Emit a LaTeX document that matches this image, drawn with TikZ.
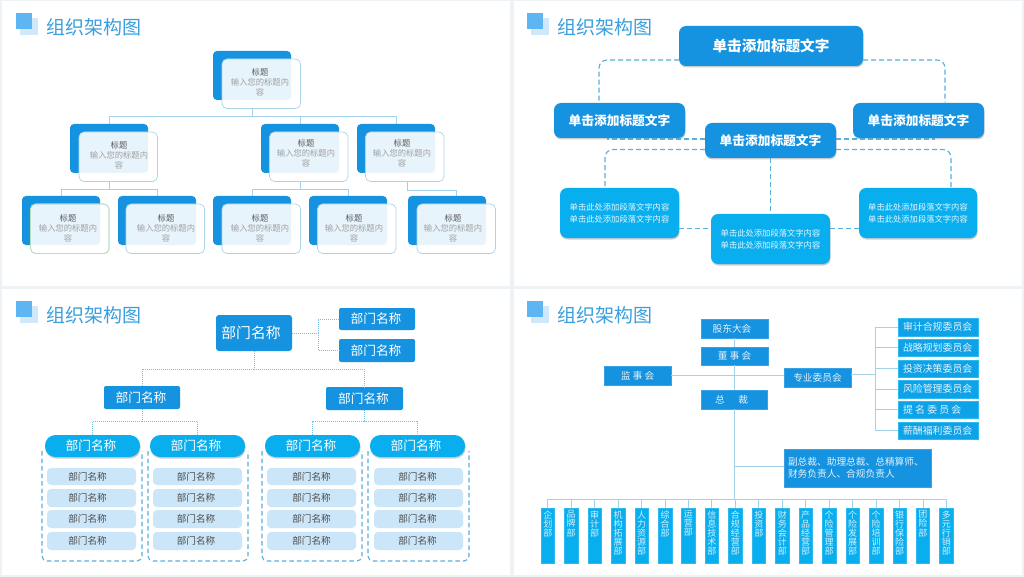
\documentclass[tikz,border=0pt]{standalone}
\usepackage{fontspec}
\setmainfont{Noto Sans CJK SC}
\usetikzlibrary{shadows}
\definecolor{bluea}{HTML}{1592E0}
\definecolor{blueb}{HTML}{09AEEF}
\definecolor{icona}{HTML}{5DB6F2}
\definecolor{iconb}{HTML}{CFE9FA}
\definecolor{ttlc}{HTML}{3A9FDC}
\definecolor{pagec}{HTML}{ECF2F5}
\definecolor{linec}{HTML}{A3D0EA}
\definecolor{dashc}{HTML}{5AAEDC}
\definecolor{rowc}{HTML}{CBE6F8}
\definecolor{edgec}{HTML}{A8D4EC}
\tikzset{
  x=1pt,y=-1pt,
  bx/.style={inner sep=0pt,outer sep=0pt,align=center},
  softshadow/.style={drop shadow={shadow xshift=0.5pt,shadow yshift=-1.5pt,opacity=.2,fill=black}},
  titletext/.style={bx,anchor=west,text=ttlc,font=\fontsize{19}{19}\selectfont},
  bluecard/.style={bx,fill=bluea,rounded corners=4pt},
  frontcard/.style={bx,draw=edgec,line width=.7pt,fill=white,fill opacity=.9,text opacity=1,rounded corners=5pt},
  cardtext/.style={bx,text=gray!75,font=\fontsize{8.3}{10}\selectfont},
  treelink/.style={draw=linec,line width=.8pt},
  headA/.style={bx,fill=bluea,rounded corners=7pt,softshadow,text=white,font=\fontsize{14.6}{16}\bfseries\selectfont},
  headB/.style={bx,fill=bluea,rounded corners=7pt,softshadow,text=white,font=\fontsize{12.7}{15}\bfseries\selectfont},
  parabox/.style={bx,fill=blueb,rounded corners=7pt,softshadow,text=white!90!blueb,font=\fontsize{8.3}{12}\selectfont},
  dashlink/.style={draw=dashc,line width=1.1pt,dash pattern=on 5pt off 3pt,rounded corners=8pt},
  deptbig/.style={bx,fill=bluea,rounded corners=3pt,text=white,font=\fontsize{14.8}{16}\selectfont},
  deptmid/.style={bx,fill=bluea,rounded corners=2pt,text=white,font=\fontsize{12.7}{15}\selectfont},
  pill/.style={bx,fill=blueb,rounded corners=10.5pt,softshadow,text=white,font=\fontsize{12.7}{15}\selectfont},
  rowbox/.style={bx,fill=rowc,rounded corners=4pt,text=black!70,font=\fontsize{9.6}{11}\selectfont},
  dotlink/.style={draw=dashc!80,line width=.7pt,dash pattern=on 1pt off 1pt},
  framelink/.style={draw=dashc,line width=1.1pt,dash pattern=on 4.5pt off 3pt,rounded corners=5pt},
  govbox/.style={bx,fill=bluea,draw=bluea!85!white,line width=.5pt,text=white!88!bluea,font=\fontsize{9.7}{11.5}\selectfont},
  combox/.style={bx,fill=bluea!40!blueb,draw=blueb!85!white,line width=.5pt,text=white!88!bluea,font=\fontsize{9.9}{11}\selectfont},
  unitbox/.style={bx,fill=blueb,draw=blueb!85!white,line width=.5pt,text=white!82!blueb,font=\fontsize{9}{9.2}\selectfont},
  orglink/.style={draw=linec,line width=.9pt},
}
% style, name, x1, y1, x2, y2, text
\newcommand\rbx[7]{%
  \pgfmathsetmacro\rbcx{(#3+#5)/2}\pgfmathsetmacro\rbcy{(#4+#6)/2}%
  \pgfmathsetmacro\rbw{#5-#3}\pgfmathsetmacro\rbh{#6-#4}%
  \node[#1,minimum width=\rbw pt,minimum height=\rbh pt] (#2) at (\rbcx,\rbcy) {#7};}
% panel: x1,y1,x2,y2
\newcommand\panelbg[4]{\fill[white] (#1,#2) rectangle (#3,#4);}
% title: id, iconx, y offset
\newcommand\paneltitle[3]{%
  \fill[iconb] (#2+4,#3+18) rectangle (#2+22,#3+35);
  \fill[icona] (#2,#3+13) rectangle (#2+16,#3+29);
  \node[titletext] (title#1) at (#2+30,#3+27) {组织架构图};}
% card: id, blue x, blue y, card x, card y, text x, text y
\newcommand\crd[7]{%
  \rbx{bluecard}{b#1}{#2}{#3}{#2+78}{#3+49}{}
  \rbx{frontcard}{c#1}{#4}{#5}{#4+78.5}{#5+49.5}{}
  \node[cardtext] (t#1) at (#6,#7) {\textcolor{black!65}{标题}\\输入您的标题内\\容};}
\newcommand\unit[3]{% id, index, text
  \pgfmathsetmacro\ux{541+#2*23.45}%
  \rbx{unitbox}{u#1}{\ux}{508}{\ux+13.5}{563}{\parbox[c][54pt][t]{13pt}{\centering\vspace{2pt}#3}}}
\begin{document}
\begin{tikzpicture}
\useasboundingbox (0,0) rectangle (1024,577);
\fill[pagec] (0,0) rectangle (1024,577);
\panelbg{2}{1}{510}{286}
\panelbg{514}{1}{1022}{286}
\panelbg{2}{289}{510}{575}
\panelbg{514}{289}{1022}{575}
\paneltitle{1}{16}{0}
\paneltitle{2}{527}{0}
\paneltitle{3}{16}{288}
\paneltitle{4}{527}{288}

% ---------- panel 1
\crd{a0}{213}{51}{222}{59}{260}{82}
\crd{a1}{70}{124}{79}{132}{119}{155}
\crd{a2}{261}{124}{269.5}{132}{306}{153}
\crd{a3}{357}{124}{365.5}{132}{402}{153}
\crd{a4}{22}{196}{30.5}{204}{68}{228}
\crd{a5}{118}{196}{126}{204}{166}{228}
\crd{a6}{213}{196}{222}{204}{260}{228}
\crd{a7}{309}{196}{317.5}{204}{354}{228}
\crd{a8}{408}{196}{417}{204}{453}{228}
\draw[draw=green!35!gray!40,line width=.7pt,rounded corners=5pt] (ca4.south west) rectangle (ca4.north east);
\draw[treelink] (ca0.south -| ba0.south) -- ++(0,7.5) -| (ba1.north);
\draw[treelink] (ca0.south -| ba0.south) -- ++(0,7.5) -| (ba2.north);
\draw[treelink] (ca0.south -| ba0.south) -- ++(0,7.5) -| (ba3.north);
\draw[treelink] (ca1.south -| ba1.south) -- ++(0,7.5) -| (ba4.north);
\draw[treelink] (ca1.south -| ba1.south) -- ++(0,7.5) -| (ba5.north);
\draw[treelink] (ca2.south -| ba2.south) -- ++(0,7.5) -| (ba6.north);
\draw[treelink] (ca2.south -| ba2.south) -- ++(0,7.5) -| (ba7.north);
\coordinate (a3out) at (407,181);
\draw[treelink] (a3out) -- ++(0,9.5) -| (ca8.north |- ba8.north);

% ---------- panel 2
\rbx{headA}{top}{679}{26}{863}{66}{单击添加标题文字}
\rbx{headB}{hl}{554}{103}{685}{138}{单击添加标题文字}
\rbx{headB}{hr}{853}{103}{984}{138}{单击添加标题文字}
\rbx{headB}{hm}{705}{123}{836}{158}{单击添加标题文字}
\rbx{parabox}{pl}{560}{188}{679}{238}{单击此处添加段落文字内容\\单击此处添加段落文字内容}
\rbx{parabox}{pm}{711}{214}{830}{264}{单击此处添加段落文字内容\\单击此处添加段落文字内容}
\rbx{parabox}{pr}{859}{188}{977}{238}{单击此处添加段落文字内容\\单击此处添加段落文字内容}
\coordinate (tl) at (679,60);
\coordinate (tr) at (863,60);
\coordinate (dl) at (599,102.5);
\coordinate (dr) at (945,102.5);
\draw[dashlink] (tl) -| (dl);
\draw[dashlink] (tr) -| (dr);
\coordinate (ml) at (705,139);
\coordinate (mr) at (836,139);
\coordinate (el) at (607,139);
\coordinate (er) at (935,139);
\draw[dashlink] (ml) -- (el);
\draw[dashlink] (mr) -- (er);
\coordinate (nl) at (705,149.5);
\coordinate (nr) at (836,149.5);
\coordinate (ol) at (605,188);
\coordinate (or) at (951,188);
\draw[dashlink] (nl) -| (ol);
\draw[dashlink] (nr) -| (or);
\draw[dashlink] (hm.south) -- (pm.north);
\coordinate (ql) at (679,228.7);
\coordinate (qm) at (711,228.7);
\coordinate (qn) at (830,228.7);
\coordinate (qr) at (859,228.7);
\draw[dashlink] (ql) -- (qm);
\draw[dashlink] (qn) -- (qr);

% ---------- panel 3
\draw[framelink] (42,451) -- (42,561) -- (142,561) -- (142,451);
\draw[framelink] (148,451) -- (148,561) -- (248,561) -- (248,451);
\draw[framelink] (262,451) -- (262,561) -- (362,561) -- (362,451);
\draw[framelink] (368,451) -- (368,561) -- (469,561) -- (469,451);
\rbx{deptbig}{d0}{216}{315}{292}{351}{部门名称\hspace{6pt}}
\rbx{deptmid}{d1}{339}{308}{415}{330}{部门名称\hspace{2pt}}
\rbx{deptmid}{d2}{339}{339}{415}{362}{部门名称\hspace{2pt}}
\rbx{deptmid}{d3}{104}{386}{180}{409}{部门名称\hspace{2pt}}
\rbx{deptmid}{d4}{326}{387}{403}{410}{部门名称\hspace{2pt}}
\rbx{pill}{e1}{45}{435}{140}{457}{部门名称\hspace{3pt}}
\rbx{pill}{e2}{150}{435}{245}{457}{部门名称\hspace{3pt}}
\rbx{pill}{e3}{265}{435}{360}{457}{部门名称\hspace{3pt}}
\rbx{pill}{e4}{370}{435}{465}{457}{部门名称\hspace{3pt}}
\foreach \c/\xa/\xb/\pad in {1/47/136/8,2/153/242/3,3/267/356/0,4/374/463/2}{
  \rbx{rowbox}{r\c a}{\xa}{468}{\xb}{485}{部门名称\hspace{\pad pt}}
  \rbx{rowbox}{r\c b}{\xa}{489}{\xb}{507}{部门名称\hspace{\pad pt}}
  \rbx{rowbox}{r\c c}{\xa}{510}{\xb}{528}{部门名称\hspace{\pad pt}}
  \rbx{rowbox}{r\c d}{\xa}{532}{\xb}{550}{部门名称\hspace{\pad pt}}
}
\draw[dotlink] (d0.east) -- ++(26,0) |- (d1.west);
\draw[dotlink] (d0.east) -- ++(26,0) |- (d2.west);
\draw[dotlink] (d0.south) -- ++(0,18) -| (d3.north);
\draw[dotlink] (d0.south) -- ++(0,18) -| (d4.north);
\draw[dotlink] (d3.south) -- ++(0,12) -| (e1.north);
\draw[dotlink] (d3.south) -- ++(0,12) -| (e2.north);
\draw[dotlink] (d4.south) -- ++(0,11) -| (e3.north);
\draw[dotlink] (d4.south) -- ++(0,11) -| (e4.north);

% ---------- panel 4
\rbx{govbox}{g1}{701}{319}{768}{338}{股东大会\hspace{5pt}}
\rbx{govbox}{g2}{701}{347}{768}{365}{董 事 会}
\rbx{govbox}{g3}{604}{366}{671}{385}{监 事 会}
\rbx{govbox}{g4}{784}{368}{851}{387}{专业委员会}
\rbx{govbox}{g5}{701}{390}{767}{409}{总\hspace{1.4em}裁\hspace{5pt}}
\rbx{govbox}{g6}{784}{449}{931}{487}{\parbox{139pt}{\raggedright 副总裁、助理总裁、总精算师、\\财务负责人、合规负责人}}
\foreach \n/\ya/\yb/\txt in {1/318/336/审计合规委员会,2/339/356/战略规划委员会,3/360/377/投资决策委员会,4/380/398/风险管理委员会,5/401/418/提 名 委 员 会,6/422/439/薪酬福利委员会}{
  \rbx{combox}{k\n}{898}{\ya}{978}{\yb}{\parbox{70pt}{\raggedright \txt}}
}
\unit{1}{0}{企\\划\\部}
\unit{2}{1}{品\\牌\\部}
\unit{3}{2}{审\\计\\部}
\unit{4}{3}{机\\构\\拓\\展\\部}
\unit{5}{4}{人\\力\\资\\源\\部}
\unit{6}{5}{综\\合\\部}
\unit{7}{6}{运\\营\\部}
\unit{8}{7}{信\\息\\技\\术\\部}
\unit{9}{8}{合\\规\\经\\营\\部}
\unit{10}{9}{投\\资\\部}
\unit{11}{10}{财\\务\\会\\计\\部}
\unit{12}{11}{产\\品\\经\\营\\部}
\unit{13}{12}{个\\险\\管\\理\\部}
\unit{14}{13}{个\\险\\发\\展\\部}
\unit{15}{14}{个\\险\\培\\训\\部}
\unit{16}{15}{银\\行\\保\\险\\部}
\unit{17}{16}{团\\险\\部}
\unit{18}{17}{多\\元\\行\\销\\部}
\draw[orglink] (g1.south -| g2.north) -- (g2.north);
\draw[orglink] (g2.south) -- (g5.north -| g2.south);
\draw[orglink] (g3.east) -- (g4.west |- g3.east);
\draw[orglink] (g5.south -| g2.south) -- ++(0,90) coordinate (bus);
\coordinate (g6in) at (784,466);
\draw[orglink] (g6in) -- (bus |- g6in);
\foreach \n in {1,...,18}{
  \draw[orglink] (bus) -| (u\n.north);
}
\coordinate (kj) at (875,374);
\draw[orglink] (g4.east |- kj) -- (kj);
\foreach \n in {1,...,6}{
  \draw[orglink] (kj) |- (k\n.west);
}
\end{tikzpicture}
\end{document}
